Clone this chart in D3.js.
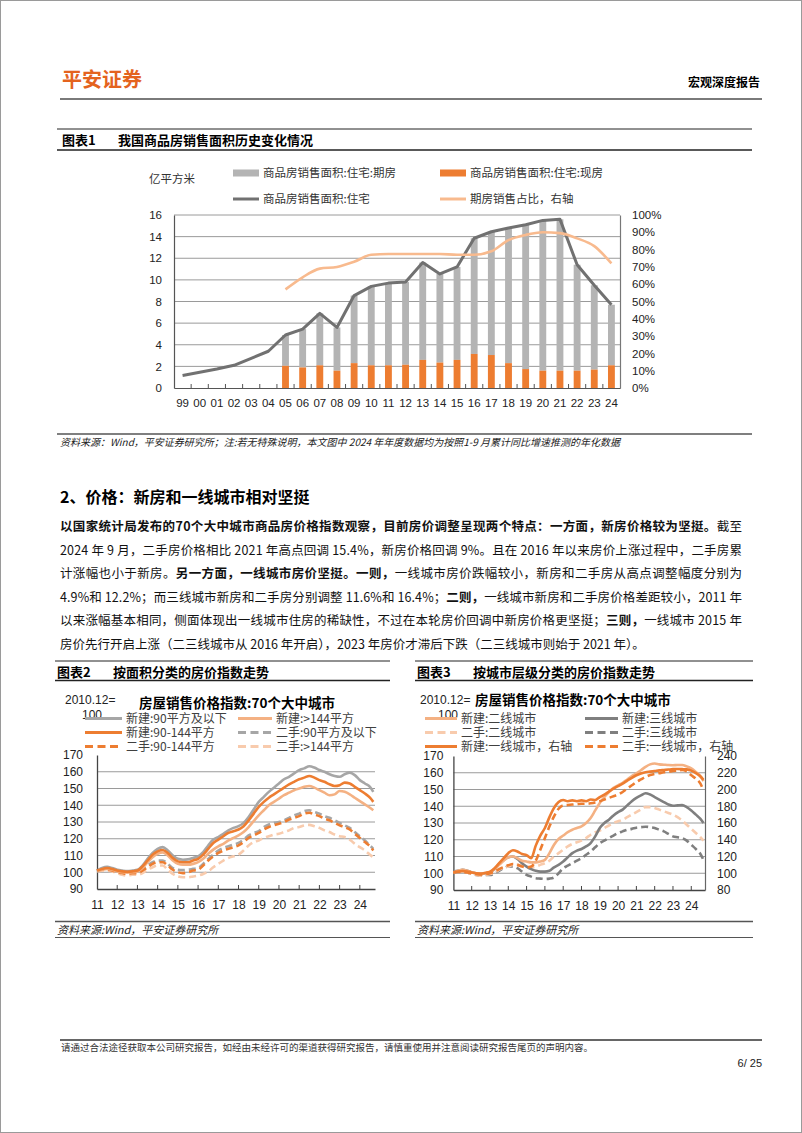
<!DOCTYPE html>
<html><head><meta charset="utf-8"><title>房价图表</title>
<script src="https://cdn.jsdelivr.net/npm/d3@7/dist/d3.min.js"></script>
<style>
html,body{margin:0;padding:0;background:#fff;}
svg{display:block;}
</style></head>
<body>
<script>
// ================= DATA =================
// Chart 1: 商品房销售面积 (亿平方米)
const c1Years=['99','00','01','02','03','04','05','06','07','08','09','10','11','12','13','14','15','16','17','18','19','20','21','22','23','24'];
const c1Total=[1.15,1.45,1.75,2.1,2.75,3.4,4.9,5.45,6.9,5.6,8.55,9.4,9.7,9.8,11.6,10.55,11.2,13.85,14.45,14.8,15.1,15.5,15.6,11.4,9.5,7.7];
const c1Existing=[null,null,null,null,null,null,2.05,1.9,2.1,1.6,2.3,2.1,2.1,2.15,2.6,2.35,2.6,3.15,3.05,2.3,1.75,1.6,1.6,1.6,1.7,2.1];
const c1Forward=[null,null,null,null,null,null,2.85,3.55,4.8,4.0,6.25,7.3,7.6,7.65,9.0,8.2,8.6,10.7,11.4,12.5,13.35,13.9,14.0,9.8,7.8,5.6];
const c1Share=[null,null,null,null,null,null,0.57,0.64,0.69,0.70,0.73,0.77,0.775,0.775,0.775,0.775,0.77,0.77,0.79,0.855,0.885,0.90,0.895,0.865,0.82,0.72];
const c1LeftTicks=[0,2,4,6,8,10,12,14,16];
const c1RightTicks=[0,0.1,0.2,0.3,0.4,0.5,0.6,0.7,0.8,0.9,1.0];
const c1Legend=['商品房销售面积:住宅:期房','商品房销售面积:住宅:现房','商品房销售面积:住宅','期房销售占比，右轴'];

// Chart 2 / 3: quarterly readings, Jan 2011 .. Sep 2024 (month index from Jan 2011)
const qMonths=[0,3,6,9,12,15,18,21,24,27,30,33,36,39,42,45,48,51,54,57,60,63,66,69,72,75,78,81,84,87,90,93,96,99,102,105,108,111,114,117,120,123,126,129,132,135,138,141,144,147,150,153,156,159,162,164];
const yearTicks=[0,12,24,36,48,60,72,84,96,108,120,132,144,156];
const yearLabels=['11','12','13','14','15','16','17','18','19','20','21','22','23','24'];

const c2New90=[101,102.5,103.2,102.5, 101.5,101,100.7,101, 101.5,104,108,111.5, 114,115,113,110, 108,107.5,107.7,108.5, 109.5,112,116,119.5, 121,123,125,126.5, 127.5,129.5,133,137.5, 142,145,148,150.5, 153,155.5,157,159, 161,162,163.3,162.5, 161,160,158.5,157.5, 157,158.5,159.5,158, 155,153,151,148];
const c2New90144=[101,102,102.5,102, 101,100.5,100.3,100.5, 101,103.5,107,110.5, 112.5,113.3,111.5,108.5, 106.5,106,106,107, 108,110.5,114,117.5, 119.5,121.5,123.5,124.5, 125.5,127.5,131,135, 139,142,144.5,146.5, 148.5,150.5,152.5,154, 155.5,156.5,157.5,156.5, 155,154,152.5,151.5, 152,153.5,153,151, 149,147,144.5,142];
const c2New144=[101,101.5,102,101.5, 100.5,100,99.8,100, 100.5,102.5,106,109, 111,111.8,110,107, 105,104.5,104.5,105, 106,108,111,113.5, 115.5,117,119,120.5, 122,124,127,130.5, 134,137,140,142, 144,146,147.5,149, 150,151,151.5,150.5, 149,147.5,146,146.5, 148.5,148,146.5,144.5, 142.5,140.5,138.5,137];
const c2Sec90=[101,102,102,101.5, 100.5,100,99.5,100, 100,101.5,104,106, 107,107,105,102.5, 101.5,101.3,101.5,102, 102.5,105,108,110.5, 113,114.5,115.5,116.5, 117.5,119.5,122,123.5, 124.5,127,128.5,129.5, 130,131,132.5,134, 135,136.5,137,136, 135,133.5,132.5,131, 129.5,128,126.5,124, 121.5,119,116,114];
const c2Sec90144=[101,101.5,101.5,101, 100,99.5,99,99.5, 99.5,101,103,105, 106,106,104,101.5, 100,99.5,100,101, 101.5,104,107,109.5, 111.5,113,114,115, 116,118,120.5,122, 123.5,125.5,127,128, 129,130,131.5,132.5, 133.5,135,135.5,134.5, 133.5,132,131,129.5, 128,127,125.5,123, 120.5,118,115.5,113];
const c2Sec144=[100.5,101,101,100.5, 99.5,98.5,98,98.5, 98.5,99.5,101.5,103, 104,104,101.5,99, 97.5,97,97,97.5, 98,99,100.5,103, 105,107,108.5,109.5, 110.5,113,116,118, 119,120.5,121.5,122.5, 123,124,125,126.5, 127,128,128.3,127.5, 126.5,125,124,122.5, 121.5,121,119.5,117, 115,113,110.5,109];
const c2Names=['新建:90平方及以下','新建:>144平方','新建:90-144平方','二手:90平方及以下','二手:90-144平方','二手:>144平方'];

const c3NewT2=[100.5,101.5,102,101.5, 100.5,100,99.5,100, 100.5,102.5,105,107.5, 109.5,110,109,107.5, 107,106.5,106.5,107, 108,112,117,120.5, 122.5,124.5,126,127, 128,130,133,137.5, 142,145.5,148.5,151, 152.5,154,156,158, 159.6,161.5,163.5,165, 165.5,165,164.8,164.6, 164.5,164.6,164.6,163.8, 162.6,160.5,158,155];
const c3NewT3=[101,101.5,102,101.5, 100.5,100,99.5,100, 100.5,102.5,105.5,108, 109.5,110,108.5,106, 104,102.5,101.5,101, 101,101.5,103.5,105, 107,109.5,112,113.5, 114.5,116,118,122, 127,130,132,134.5, 136.5,138,140.5,143, 145,146.5,147.8,147, 145.5,144,142.5,141, 140.3,140.5,140.7,139.5, 137.5,135,132.5,130];
const c3SecT2=[100.5,101,101,100.5, 99.5,99,98.5,99, 99.5,100.5,102,103.5, 104,105,105,104.5, 104,103.5,104,105, 106,107.5,110,112, 114,116,117.5,118.5, 119.5,121,123,124.5, 125.5,127,128.5,130, 131,132,133.5,135, 136.5,138,139.5,139.5, 139,138,137,136, 135,133.5,131.5,129, 126.5,124,121.5,119.5];
const c3SecT3=[100.5,101,101,100.5, 99.5,99,98.5,99, 99,100,101.5,103, 104,104,103,101, 99,98,97,96.8, 96.6,96.8,97.5,100, 103,104.5,106,107.5, 109,111,113,115.5, 118,119.5,121,122.5, 124,125,126,126.5, 127.2,127.5,127.8,127.5, 127,126,125,123.5, 122,121.5,121,119.5, 117,114.5,111.5,108];
const c3NewT1=[101,102,102.5,102, 101,100,99.5,100.5, 102,106,112,118, 124,127.5,126,123, 121.5,118,133,145, 154,167,178,185, 187.5,186,187,186, 187,186,188,187.5, 191,194,197.5,201, 204,207,210.5,214, 217,219,220.5,221.3, 222,222.8,223.3,223.8, 224.3,224.5,224.3,224, 222.5,219.5,215.5,211.5];
const c3SecT1=[101,101.5,101.5,101, 100,99,98.5,99, 100,102,105,107.5, 109.5,111,110,108, 107,108,115,128, 142,156,168,177, 181,181.5,182,182.5, 183,183,183.5,184.5, 186,188,190,192, 194,197,201,205, 209,212,215,217.3, 218.5,219.5,220.5,221.3, 222,222.8,223.3,221.5, 217,213,207,199];
const c3Names=['新建:二线城市','新建:三线城市','二手:二线城市','二手:三线城市','新建:一线城市，右轴','二手:一线城市，右轴'];
const leftTicks23=[90,100,110,120,130,140,150,160,170];
const rightTicks3=[80,100,120,140,160,180,200,220,240];

// ================= PAGE =================
const W=802,H=1133;
const CJK='"Noto Sans CJK SC","Noto Sans",sans-serif';
const LAT='"Liberation Sans",Arial,"Noto Sans CJK SC",sans-serif';
const ORANGE='#ED7D31', LORANGE='#F4B183', LGRAY='#A6A6A6', DGRAY='#7F7F7F';

const svg=d3.select('body').append('svg').attr('width',W).attr('height',H);
svg.append('rect').attr('x',0.5).attr('y',0.5).attr('width',W-1).attr('height',H-1).attr('fill','#fff').attr('stroke','#9a9a9a');

function txt(g,x,y,s,o={}){
  return g.append('text').attr('x',x).attr('y',y).text(s)
    .attr('font-family',o.family||CJK).attr('font-size',o.size||12)
    .attr('font-weight',o.weight||'normal').attr('fill',o.fill||'#000')
    .attr('text-anchor',o.anchor||'start').attr('font-style',o.style||'normal');
}
function hline(g,x1,x2,y,color,w){
  g.append('line').attr('x1',x1).attr('x2',x2).attr('y1',y).attr('y2',y).attr('stroke',color).attr('stroke-width',w);
}

// Header
txt(svg,62,87,'平安证券',{size:20,weight:'bold',fill:'#E4631E'});
txt(svg,760,87,'宏观深度报告',{size:12,weight:'bold',anchor:'end'});
hline(svg,60,762,99,'#7a7a7a',2);

// ================= CHART 1 =================
hline(svg,57,752,129,'#222',1);
txt(svg,62,145,'图表1',{size:13,weight:'bold'});
txt(svg,118,145,'我国商品房销售面积历史变化情况',{size:13,weight:'bold'});
hline(svg,57,752,150,'#222',1.5);

const g1=svg.append('g');
const x1=d3.scaleBand().domain(c1Years).range([174,620]).paddingInner(0.6).paddingOuter(0.3);
const y1=d3.scaleLinear().domain([0,16]).range([388,215]);
const y1r=d3.scaleLinear().domain([0,1]).range([388,215]);
const bw=x1.bandwidth(), gap=(x1.step()-bw)/2;

// legend
txt(g1,172,183,'亿平方米',{size:11.5,fill:'#333',anchor:'middle'});
g1.append('rect').attr('x',233).attr('y',169.5).attr('width',26).attr('height',7).attr('fill','#B4B4B4');
txt(g1,263,177,c1Legend[0],{size:11.5,fill:'#333'});
g1.append('rect').attr('x',440).attr('y',169.5).attr('width',26).attr('height',7).attr('fill',ORANGE);
txt(g1,470,177,c1Legend[1],{size:11.5,fill:'#333'});
hline(g1,233,259,199,'#717171',3);
txt(g1,263,203,c1Legend[2],{size:11.5,fill:'#333'});
hline(g1,440,466,199,'#F8BA8E',3);
txt(g1,470,203,c1Legend[3],{size:11.5,fill:'#333'});

// grid
c1LeftTicks.filter(v=>v>0).forEach(v=>hline(g1,174,620,y1(v),'#9a9a9a',1));

// bars
const c1Rows=c1Years.map((yr,i)=>({yr,total:c1Total[i],ex:c1Existing[i],fw:c1Forward[i],sh:c1Share[i]}));
const withBars=c1Rows.filter(d=>d.ex!=null);
g1.selectAll('.fw').data(withBars).join('rect').attr('x',d=>x1(d.yr)).attr('width',bw)
  .attr('y',d=>y1(d.ex+d.fw)).attr('height',d=>y1(d.ex)-y1(d.ex+d.fw)).attr('fill','#B4B4B4');
g1.selectAll('.ex').data(withBars).join('rect').attr('x',d=>x1(d.yr)).attr('width',bw)
  .attr('y',d=>y1(d.ex)).attr('height',d=>y1(0)-y1(d.ex)).attr('fill',ORANGE);

// axes
g1.append('g').attr('transform','translate(174,0)')
  .call(d3.axisLeft(y1).tickValues(c1LeftTicks).tickSize(0).tickSizeOuter(0).tickPadding(12))
  .call(a=>{a.select('.domain').attr('stroke','#555').attr('stroke-width',1.2);a.selectAll('text').attr('font-family',LAT).attr('font-size',11.5).attr('fill','#222');});
g1.append('g').attr('transform','translate(620,0)')
  .call(d3.axisRight(y1r).tickValues(c1RightTicks).tickFormat(d3.format('.0%')).tickSize(0).tickSizeOuter(0).tickPadding(12))
  .call(a=>{a.select('.domain').attr('stroke','#777').attr('stroke-width',1.2);a.selectAll('text').attr('font-family',LAT).attr('font-size',11.5).attr('fill','#222');});
g1.append('g').attr('transform','translate(0,388)')
  .call(d3.axisBottom(x1).tickSize(0).tickSizeOuter(0).tickPadding(11))
  .call(a=>{a.select('.domain').attr('stroke','#555').attr('stroke-width',1.2);a.selectAll('text').attr('font-family',LAT).attr('font-size',11.5).attr('fill','#222');});
c1Years.slice(1).forEach(yr=>{
  const xx=x1(yr)-gap;
  g1.append('line').attr('x1',xx).attr('x2',xx).attr('y1',388).attr('y2',384).attr('stroke','#555');
});

// lines
g1.append('path').datum(c1Rows).attr('fill','none').attr('stroke','#717171').attr('stroke-width',3).attr('stroke-linejoin','round')
  .attr('d',d3.line().x(d=>x1(d.yr)+bw/2).y(d=>y1(d.total)));
g1.append('path').datum(c1Rows.filter(d=>d.sh!=null)).attr('fill','none').attr('stroke','#F8BA8E').attr('stroke-width',2.6)
  .attr('d',d3.line().x(d=>x1(d.yr)+bw/2).y(d=>y1r(d.sh)).curve(d3.curveMonotoneX));

// footnote
hline(svg,57,752,434,'#555',1.5);
txt(svg,60,446,'资料来源：Wind，平安证券研究所；注:若无特殊说明，本文图中 2024 年年度数据均为按照1-9 月累计同比增速推测的年化数据',{size:10,style:'italic',fill:'#222'});

// ================= TEXT SECTION =================
txt(svg,60,503,'2、价格：新房和一线城市相对坚挺',{size:16,weight:'bold'});
const paraLines=[
 [['以国家统计局发布的70个大中城市商品房价格指数观察，目前房价调整呈现两个特点：一方面，新房价格较为坚挺。',1],['截至',0]],
 [['2024 年 9 月，二手房价格相比 2021 年高点回调 15.4%，新房价格回调 9%。且在 2016 年以来房价上涨过程中，二手房累',0]],
 [['计涨幅也小于新房。',0],['另一方面，一线城市房价坚挺。一则，',1],['一线城市房价跌幅较小，新房和二手房从高点调整幅度分别为',0]],
 [['4.9%和 12.2%；而三线城市新房和二手房分别调整 11.6%和 16.4%；',0],['二则，',1],['一线城市新房和二手房价格差距较小，2011 年',0]],
 [['以来涨幅基本相同，侧面体现出一线城市住房的稀缺性，不过在本轮房价回调中新房价格更坚挺；',0],['三则，',1],['一线城市 2015 年',0]],
 [['房价先行开启上涨（二三线城市从 2016 年开启），2023 年房价才滞后下跌（二三线城市则始于 2021 年）。',0]]
];
paraLines.forEach((segs,i)=>{
  const t=svg.append('text').attr('x',60).attr('y',531+i*23.6).attr('font-family',CJK).attr('font-size',12.5).attr('fill','#111');
  if(i<paraLines.length-1) t.attr('textLength',682).attr('lengthAdjust','spacing');
  segs.forEach(s=>t.append('tspan').text(s[0]).attr('font-weight',s[1]?'bold':'normal'));
});

// ================= CHART 2 & 3 helpers =================
function titleBar(x1_,x2_,label,title){
  hline(svg,x1_,x2_,661,'#222',1);
  txt(svg,x1_+2,677,label,{size:13,weight:'bold'});
  txt(svg,x1_+58,677,title,{size:13,weight:'bold'});
  hline(svg,x1_,x2_,680.5,'#222',1.5);
  hline(svg,x1_,x2_,921.5,'#555',1.5);
  txt(svg,x1_+2,934,'资料来源:Wind，平安证券研究所',{size:11,style:'italic',fill:'#222'});
  hline(svg,x1_,x2_,937.5,'#555',1);
}
function series(g,xs,ys,vals,color,dash,w){
  const p=g.append('path').datum(vals).attr('fill','none').attr('stroke',color).attr('stroke-width',w||2.6)
    .attr('stroke-linejoin','round')
    .attr('d',d3.line().x((d,i)=>xs(qMonths[i])).y(d=>ys(d)).curve(d3.curveMonotoneX));
  if(dash) p.attr('stroke-dasharray','7,4');
}
function legItem(g,xa,xb,y,color,dash,label){
  const l=g.append('line').attr('x1',xa).attr('x2',xb).attr('y1',y).attr('y2',y).attr('stroke',color).attr('stroke-width',3);
  if(dash) l.attr('stroke-dasharray','8,4.5');
  txt(g,xb+4,y+4.5,label,{size:12,fill:'#404040'});
}
function frame(g,xs,ys,left,right,bottom,top,labelX){
  leftTicks23.filter(v=>v>90&&v<170).forEach(v=>hline(g,left,right,ys(v),'#9a9a9a',1));
  g.append('g').attr('transform',`translate(${left},0)`)
   .call(d3.axisLeft(ys).tickValues(leftTicks23).tickSize(0).tickSizeOuter(0).tickPadding(labelX))
   .call(a=>{a.select('.domain').attr('stroke','#444').attr('stroke-width',1.3);a.selectAll('text').attr('font-family',LAT).attr('font-size',12).attr('fill','#222');});
  g.append('g').attr('transform',`translate(0,${bottom})`)
   .call(d3.axisBottom(xs).tickValues(yearTicks).tickFormat((d,i)=>yearLabels[i]).tickSize(0).tickSizeOuter(0).tickPadding(11))
   .call(a=>{a.select('.domain').attr('stroke','#444').attr('stroke-width',1.3);a.selectAll('text').attr('font-family',LAT).attr('font-size',12).attr('fill','#222');});
  yearTicks.slice(1).forEach(m=>g.append('line').attr('x1',xs(m)).attr('x2',xs(m)).attr('y1',bottom).attr('y2',bottom-4).attr('stroke','#444'));
}

// ================= CHART 2 =================
titleBar(55,390,'图表2','按面积分类的房价指数走势');
const g2=svg.append('g');
const x2=d3.scaleLinear().domain([0,165]).range([97,375]);
const y2=d3.scaleLinear().domain([90,170]).range([889,755]);
txt(g2,65,704,'2010.12=',{size:12,family:LAT,fill:'#222'});
txt(g2,237,708,'房屋销售价格指数:70个大中城市',{size:13.5,weight:'bold',anchor:'middle'});
txt(g2,82,719,'100',{size:12,family:LAT,fill:'#222'});
legItem(g2,85,122,718.5,LGRAY,false,c2Names[0]);
legItem(g2,238,272,718.5,LORANGE,false,c2Names[1]);
legItem(g2,85,122,732.5,ORANGE,false,c2Names[2]);
legItem(g2,238,272,732.5,LGRAY,true,c2Names[3]);
legItem(g2,85,122,746.5,ORANGE,true,c2Names[4]);
legItem(g2,238,272,746.5,'#F8CBAD',true,c2Names[5]);
frame(g2,x2,y2,97,375,889,755,14);
series(g2,x2,y2,c2Sec144,'#F8CBAD',true);
series(g2,x2,y2,c2Sec90,LGRAY,true);
series(g2,x2,y2,c2Sec90144,ORANGE,true);
series(g2,x2,y2,c2New144,LORANGE,false);
series(g2,x2,y2,c2New90,LGRAY,false);
series(g2,x2,y2,c2New90144,ORANGE,false);

// ================= CHART 3 =================
titleBar(415,753,'图表3','按城市层级分类的房价指数走势');
const g3=svg.append('g');
const x3=d3.scaleLinear().domain([0,165]).range([453.4,705]);
const y3=d3.scaleLinear().domain([90,170]).range([890,756]);
const y3r=d3.scaleLinear().domain([80,240]).range([890,756]);
txt(g3,420,704,'2010.12=',{size:12,family:LAT,fill:'#222'});
txt(g3,475,705,'房屋销售价格指数:70个大中城市',{size:13.5,weight:'bold'});
txt(g3,438,719,'100',{size:12,family:LAT,fill:'#222'});
legItem(g3,425,457,718.5,LORANGE,false,c3Names[0]);
legItem(g3,585,618,718.5,DGRAY,false,c3Names[1]);
legItem(g3,425,457,732.5,'#F8CBAD',true,c3Names[2]);
legItem(g3,585,618,732.5,DGRAY,true,c3Names[3]);
legItem(g3,425,457,746.5,ORANGE,false,c3Names[4]);
legItem(g3,585,618,746.5,ORANGE,true,c3Names[5]);
frame(g3,x3,y3,453.4,705,890,756,10);
g3.append('g').attr('transform','translate(705,0)')
  .call(d3.axisRight(y3r).tickValues(rightTicks3).tickSize(0).tickSizeOuter(0).tickPadding(12))
  .call(a=>{a.select('.domain').attr('stroke','#666').attr('stroke-width',1.2);a.selectAll('text').attr('font-family',LAT).attr('font-size',12).attr('fill','#222');});
series(g3,x3,y3,c3SecT3,DGRAY,true);
series(g3,x3,y3,c3SecT2,'#F8CBAD',true);
series(g3,x3,y3,c3NewT3,DGRAY,false);
series(g3,x3,y3,c3NewT2,LORANGE,false);
series(g3,x3,y3r,c3SecT1,ORANGE,true);
series(g3,x3,y3r,c3NewT1,ORANGE,false);

// ================= FOOTER =================
hline(svg,60,762,1040,'#333',1.5);
txt(svg,61,1051,'请通过合法途径获取本公司研究报告，如经由未经许可的渠道获得研究报告，请慎重使用并注意阅读研究报告尾页的声明内容。',{size:9.5,fill:'#333'});
txt(svg,762,1067,'6/ 25',{size:11,family:LAT,anchor:'end',fill:'#222'});
</script>
</body></html>
